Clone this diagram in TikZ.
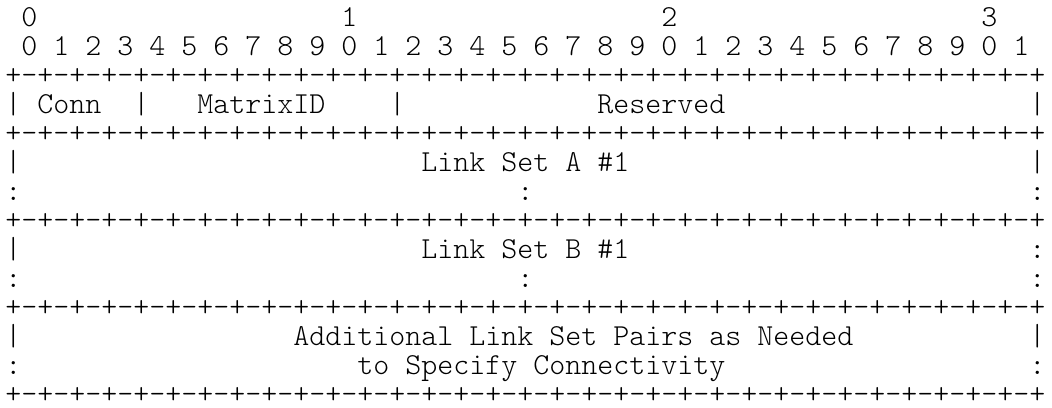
\documentclass[tikz,border=0pt]{standalone}
\usepackage{tikz}

\newcommand{\asciifont}{\ttfamily\fontseries{l}\fontsize{30.48pt}{30.48pt}\selectfont}
\newcommand{\border}{+-+-+-+-+-+-+-+-+-+-+-+-+-+-+-+-+-+-+-+-+-+-+-+-+-+-+-+-+-+-+-+-+}

\begin{document}
\begin{tikzpicture}[x=16pt, y=-29.05pt,
    ascii/.style={font=\asciifont, inner sep=0pt, outer sep=0pt, text depth=0pt, anchor=base west}]
    \useasboundingbox (0pt,0pt) rectangle (1052pt,-407pt);
    \begin{scope}[shift={(5.3pt,-26pt)}]
    % Bit ruler
    \node [ascii] (tens0) at (1,0)  {0};
    \node [ascii] (tens1) at (21,0) {1};
    \node [ascii] (tens2) at (41,0) {2};
    \node [ascii] (tens3) at (61,0) {3};
    \node [ascii] (ones)  at (1,1)  {0~1~2~3~4~5~6~7~8~9~0~1~2~3~4~5~6~7~8~9~0~1~2~3~4~5~6~7~8~9~0~1};

    % Word 1: Conn, MatrixID, Reserved
    \node [ascii] (border1)  at (0,2)  {\border};
    \node [ascii] (hdrA)     at (0,3)  {|};
    \node [ascii] (conn)     at (2,3)  {Conn};
    \node [ascii] (hdrB)     at (8,3)  {|};
    \node [ascii] (matrixid) at (12,3) {MatrixID};
    \node [ascii] (hdrC)     at (24,3) {|};
    \node [ascii] (reserved) at (37,3) {Reserved};
    \node [ascii] (hdrD)     at (64,3) {|};
    \node [ascii] (border2)  at (0,4)  {\border};

    % Link Set A
    \node [ascii] (setAl)    at (0,5)  {|};
    \node [ascii] (setA)     at (26,5) {Link Set A \#1};
    \node [ascii] (setAr)    at (64,5) {|};
    \node [ascii] (contAl)   at (0,6)  {:};
    \node [ascii] (contAm)   at (32,6) {:};
    \node [ascii] (contAr)   at (64,6) {:};
    \node [ascii] (border3)  at (0,7)  {\border};

    % Link Set B
    \node [ascii] (setBl)    at (0,8)  {|};
    \node [ascii] (setB)     at (26,8) {Link Set B \#1};
    \node [ascii] (setBr)    at (64,8) {:};
    \node [ascii] (contBl)   at (0,9)  {:};
    \node [ascii] (contBm)   at (32,9) {:};
    \node [ascii] (contBr)   at (64,9) {:};
    \node [ascii] (border4)  at (0,10) {\border};

    % Further pairs
    \node [ascii] (moreAl)   at (0,11)  {|};
    \node [ascii] (moreA)    at (18,11) {Additional Link Set Pairs as Needed};
    \node [ascii] (moreAr)   at (64,11) {|};
    \node [ascii] (moreBl)   at (0,12)  {:};
    \node [ascii] (moreB)    at (22,12) {to Specify Connectivity};
    \node [ascii] (moreBr)   at (64,12) {:};
    \node [ascii] (border5)  at (0,13)  {\border};
    \end{scope}
\end{tikzpicture}
\end{document}
